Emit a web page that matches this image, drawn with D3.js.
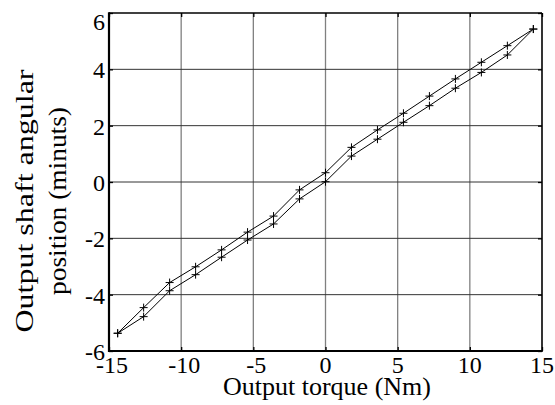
<!DOCTYPE html>
<html>
<head>
<meta charset="utf-8">
<script src="https://cdn.jsdelivr.net/npm/d3@7"></script>
<style>
  html, body { margin: 0; padding: 0; background: #fff; }
  svg { display: block; }
</style>
</head>
<body>
<svg id="chart" width="555" height="405"></svg>
<script>
// Data
const torque = [-14.4, -12.6, -10.8, -9.0, -7.2, -5.4, -3.6, -1.8, 0, 1.8, 3.6, 5.4, 7.2, 9.0, 10.8, 12.6, 14.4];
const upperPosition = [-5.37, -4.46, -3.57, -3.01, -2.41, -1.78, -1.21, -0.28, 0.33, 1.23, 1.85, 2.44, 3.05, 3.66, 4.25, 4.84, 5.43];
const lowerPosition = [-5.37, -4.78, -3.86, -3.29, -2.67, -2.06, -1.49, -0.60, 0.01, 0.92, 1.52, 2.12, 2.71, 3.33, 3.89, 4.51, 5.43];
const xTicks = [-15, -10, -5, 0, 5, 10, 15];
const yTicks = [-6, -4, -2, 0, 2, 4, 6];
const xLabel = "Output torque (Nm)";
const yLabelLines = ["Output shaft angular", "position (minuts)"];

const FONT = "'Liberation Serif', 'Times New Roman', 'DejaVu Serif', serif";
const svg = d3.select("#chart");
const L = 109, R = 542, T = 13, B = 351;
const x = d3.scaleLinear().domain([-15, 15]).range([L, R]);
const y = d3.scaleLinear().domain([-6, 6]).range([B, T]);

svg.append("rect").attr("width", 555).attr("height", 405).attr("fill", "#fff");

// grid
const g = svg.append("g");
g.selectAll("line.vg").data(xTicks.slice(1, -1)).enter().append("line")
  .attr("x1", d => x(d)).attr("x2", d => x(d)).attr("y1", T).attr("y2", B)
  .attr("stroke", "#808080").attr("stroke-width", 1.3);
g.selectAll("line.hg").data(yTicks.slice(1, -1)).enter().append("line")
  .attr("x1", L).attr("x2", R).attr("y1", d => y(d)).attr("y2", d => y(d))
  .attr("stroke", "#333").attr("stroke-width", 1);

// axes with inside ticks
const tk = 4;
const xAxisB = d3.axisBottom(x).tickValues(xTicks).tickSize(-tk).tickFormat("");
const xAxisT = d3.axisTop(x).tickValues(xTicks).tickSize(-tk).tickFormat("");
const yAxisL = d3.axisLeft(y).tickValues(yTicks).tickSize(-tk).tickFormat("");
const yAxisR = d3.axisRight(y).tickValues(yTicks).tickSize(-tk).tickFormat("");
svg.append("g").attr("transform", `translate(0,${B})`).call(xAxisB);
svg.append("g").attr("transform", `translate(0,${T})`).call(xAxisT);
svg.append("g").attr("transform", `translate(${L},0)`).call(yAxisL);
svg.append("g").attr("transform", `translate(${R},0)`).call(yAxisR);
svg.selectAll(".domain").remove();
svg.selectAll(".tick line").attr("stroke", "#000").attr("stroke-width", 1.3);

// frame
svg.append("line").attr("x1", L).attr("x2", R).attr("y1", T).attr("y2", T).attr("stroke", "#000").attr("stroke-width", 1.6);
svg.append("line").attr("x1", R).attr("x2", R).attr("y1", T).attr("y2", B).attr("stroke", "#000").attr("stroke-width", 1.6);
svg.append("line").attr("x1", L).attr("x2", L).attr("y1", T - 0.8).attr("y2", B + 1).attr("stroke", "#000").attr("stroke-width", 2.2);
svg.append("line").attr("x1", L - 1).attr("x2", R + 0.8).attr("y1", B).attr("y2", B).attr("stroke", "#000").attr("stroke-width", 2.2);

// tick labels
svg.selectAll("text.xt").data(xTicks).enter().append("text")
  .attr("x", d => x(d) + (d < 0 ? 3 : 0)).attr("y", 373)
  .attr("text-anchor", "middle")
  .style("font-family", FONT).style("font-size", "24px")
  .text(d => d);
svg.selectAll("text.yt").data(yTicks).enter().append("text")
  .attr("x", 105).attr("y", d => (d === 6 ? 30 : y(d) + 9))
  .attr("text-anchor", "end")
  .style("font-family", FONT).style("font-size", "24px")
  .text(d => d);

// axis labels
svg.append("text").attr("x", 327).attr("y", 395).attr("text-anchor", "middle")
  .style("font-family", FONT).style("font-size", "26px").text(xLabel);
const yl = [{t: yLabelLines[0], cx: 33, len: 263}, {t: yLabelLines[1], cx: 66, len: 188}];
yl.forEach(o => {
  svg.append("text")
    .attr("transform", `translate(${o.cx},201) rotate(-90)`)
    .attr("text-anchor", "middle")
    .style("font-family", FONT).style("font-size", "26px")
    .attr("textLength", o.len).attr("lengthAdjust", "spacingAndGlyphs")
    .text(o.t);
});

// series
const pts = (ys) => torque.map((t, i) => [t, ys[i]]);
const line = d3.line().x(d => x(d[0])).y(d => y(d[1]));
[upperPosition, lowerPosition].forEach(ys => {
  const data = pts(ys);
  svg.append("path").datum(data).attr("d", line)
    .attr("fill", "none").attr("stroke", "#000").attr("stroke-width", 1);
  svg.append("g").selectAll("path").data(data).enter().append("path")
    .attr("d", d => `M${x(d[0]) - 4},${y(d[1])}h8M${x(d[0])},${y(d[1]) - 4}v8`)
    .attr("stroke", "#000").attr("stroke-width", 1).attr("fill", "none");
});
</script>
</body>
</html>
